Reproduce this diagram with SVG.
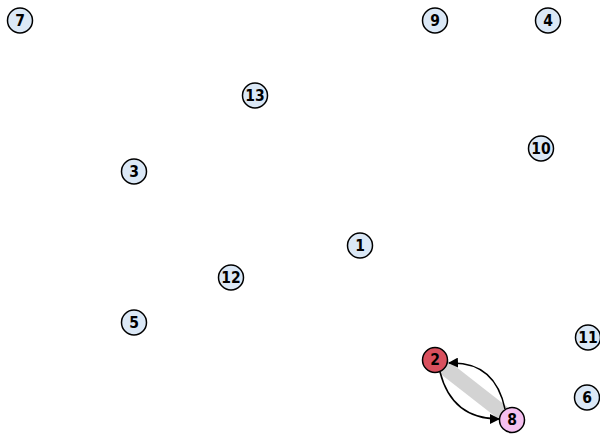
<svg xmlns="http://www.w3.org/2000/svg" width="600" height="434" viewBox="0 0 600 434">
<style>
.n circle{fill:#dbe8f6;stroke:#000;stroke-width:1.5}
.n text{font-family:"DejaVu Sans Condensed","DejaVu Sans",sans-serif;font-weight:bold;font-size:15.5px;text-anchor:middle;dominant-baseline:central;fill:#000}
.e{fill:none;stroke:#000;stroke-width:1.5}
</style>
<defs>
<marker id="ah" viewBox="0 0 10 10" refX="9" refY="5" markerWidth="10" markerHeight="10" markerUnits="userSpaceOnUse" orient="auto"><path d="M0,0 L10,5 L0,10 z" fill="#000"/></marker>
</defs>
<g id="connectors">
<line x1="435" y1="360" x2="512" y2="420" stroke="#d3d3d3" stroke-width="15"/>
<path class="e" d="M505,409 Q495,361 449,363" marker-end="url(#ah)"/>
<path class="e" d="M440,372 Q452,419 499,419" marker-end="url(#ah)"/>
</g>
<g id="n7" class="n"><circle cx="20" cy="20.5" r="12.5"/><text x="20" y="20.5">7</text></g>
<g id="n9" class="n"><circle cx="435" cy="20.5" r="12.5"/><text x="435" y="20.5">9</text></g>
<g id="n4" class="n"><circle cx="548" cy="20.5" r="12.5"/><text x="548" y="20.5">4</text></g>
<g id="n13" class="n"><circle cx="255" cy="95.5" r="12.5"/><text x="255" y="95.5">13</text></g>
<g id="n10" class="n"><circle cx="541" cy="148.5" r="12.5"/><text x="541" y="148.5">10</text></g>
<g id="n3" class="n"><circle cx="134" cy="171.5" r="12.5"/><text x="134" y="171.5">3</text></g>
<g id="n1" class="n"><circle cx="360" cy="245.5" r="12.5"/><text x="360" y="245.5">1</text></g>
<g id="n12" class="n"><circle cx="231" cy="277.5" r="12.5"/><text x="231" y="277.5">12</text></g>
<g id="n5" class="n"><circle cx="134" cy="322.5" r="12.5"/><text x="134" y="322.5">5</text></g>
<g id="n11" class="n"><circle cx="588" cy="337.5" r="12.5"/><text x="588" y="337.5">11</text></g>
<g id="n6" class="n"><circle cx="587" cy="397.5" r="12.5"/><text x="587" y="397.5">6</text></g>
<g id="n2" class="n"><circle cx="435" cy="360" r="12.5" style="fill:#d9505e"/><text x="435" y="360">2</text></g>
<g id="n8" class="n"><circle cx="512" cy="420" r="12.5" style="fill:#f5c0f0"/><text x="512" y="420">8</text></g>
</svg>
